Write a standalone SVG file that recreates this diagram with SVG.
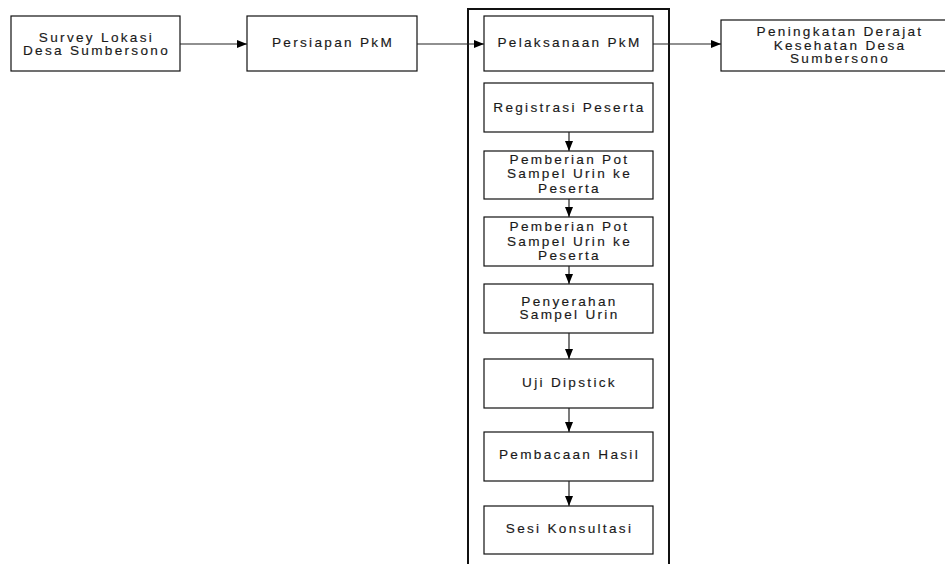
<svg xmlns="http://www.w3.org/2000/svg" width="945" height="564" viewBox="0 0 945 564">
<defs>
<style>
.box{fill:#fff;stroke:#111;stroke-width:1.2}
.outer{fill:none;stroke:#111;stroke-width:2}
.t{font-family:"Liberation Sans",Arial,sans-serif;font-size:13.6px;letter-spacing:2.3px;fill:#1a1a1a;text-anchor:middle;stroke:#1a1a1a;stroke-width:0.15}
.c{stroke:#222;stroke-width:1.2;fill:none;marker-end:url(#ah)}
</style>
<marker id="ah" viewBox="0 0 10 8" refX="10" refY="4" markerWidth="10" markerHeight="8" markerUnits="userSpaceOnUse" orient="auto">
<path d="M0,0 L10,4 L0,8 Z" fill="#000"/>
</marker>
</defs>
<rect width="945" height="564" fill="#fff"/>
<g id="container"><rect class="outer" x="468" y="9" width="201" height="570"/></g>
<g id="n1"><rect class="box" x="11" y="16" width="169" height="55"/>
<text class="t" x="96.5" y="42">Survey Lokasi</text><text class="t" x="96.5" y="55">Desa Sumbersono</text></g>
<g id="n2"><rect class="box" x="247" y="16" width="170" height="55"/>
<text class="t" x="333" y="47">Persiapan PkM</text></g>
<g id="n3"><rect class="box" x="484" y="16" width="169" height="55"/>
<text class="t" x="569.5" y="47">Pelaksanaan PkM</text></g>
<g id="n4"><rect class="box" x="721" y="20" width="240" height="51"/>
<text class="t" x="840" y="36">Peningkatan Derajat</text><text class="t" x="840" y="50">Kesehatan Desa</text><text class="t" x="840" y="63">Sumbersono</text></g>
<g id="n5"><rect class="box" x="484" y="83" width="169" height="49"/>
<text class="t" x="569.5" y="112">Registrasi Peserta</text></g>
<g id="n6"><rect class="box" x="484" y="151" width="169" height="48"/>
<text class="t" x="569.5" y="164">Pemberian Pot</text><text class="t" x="569.5" y="178">Sampel Urin ke</text><text class="t" x="569.5" y="193">Peserta</text></g>
<g id="n7"><rect class="box" x="484" y="217" width="169" height="49"/>
<text class="t" x="569.5" y="231">Pemberian Pot</text><text class="t" x="569.5" y="246">Sampel Urin ke</text><text class="t" x="569.5" y="260">Peserta</text></g>
<g id="n8"><rect class="box" x="484" y="284" width="169" height="49"/>
<text class="t" x="569.5" y="306">Penyerahan</text><text class="t" x="569.5" y="319">Sampel Urin</text></g>
<g id="n9"><rect class="box" x="484" y="359" width="169" height="49"/>
<text class="t" x="569.5" y="387">Uji Dipstick</text></g>
<g id="n10"><rect class="box" x="484" y="432" width="169" height="49"/>
<text class="t" x="569.5" y="459">Pembacaan Hasil</text></g>
<g id="n11"><rect class="box" x="484" y="506" width="169" height="48"/>
<text class="t" x="569.5" y="533">Sesi Konsultasi</text></g>
<g id="connectors">
<line class="c" x1="180" y1="44" x2="247" y2="44"/>
<line class="c" x1="417" y1="44" x2="484" y2="44"/>
<line class="c" x1="653" y1="44" x2="721" y2="44"/>
<line class="c" x1="569" y1="132" x2="569" y2="151"/>
<line class="c" x1="569" y1="199" x2="569" y2="217"/>
<line class="c" x1="569" y1="266" x2="569" y2="284"/>
<line class="c" x1="569" y1="333" x2="569" y2="359"/>
<line class="c" x1="569" y1="408" x2="569" y2="432"/>
<line class="c" x1="569" y1="481" x2="569" y2="506"/>
</g>
</svg>
